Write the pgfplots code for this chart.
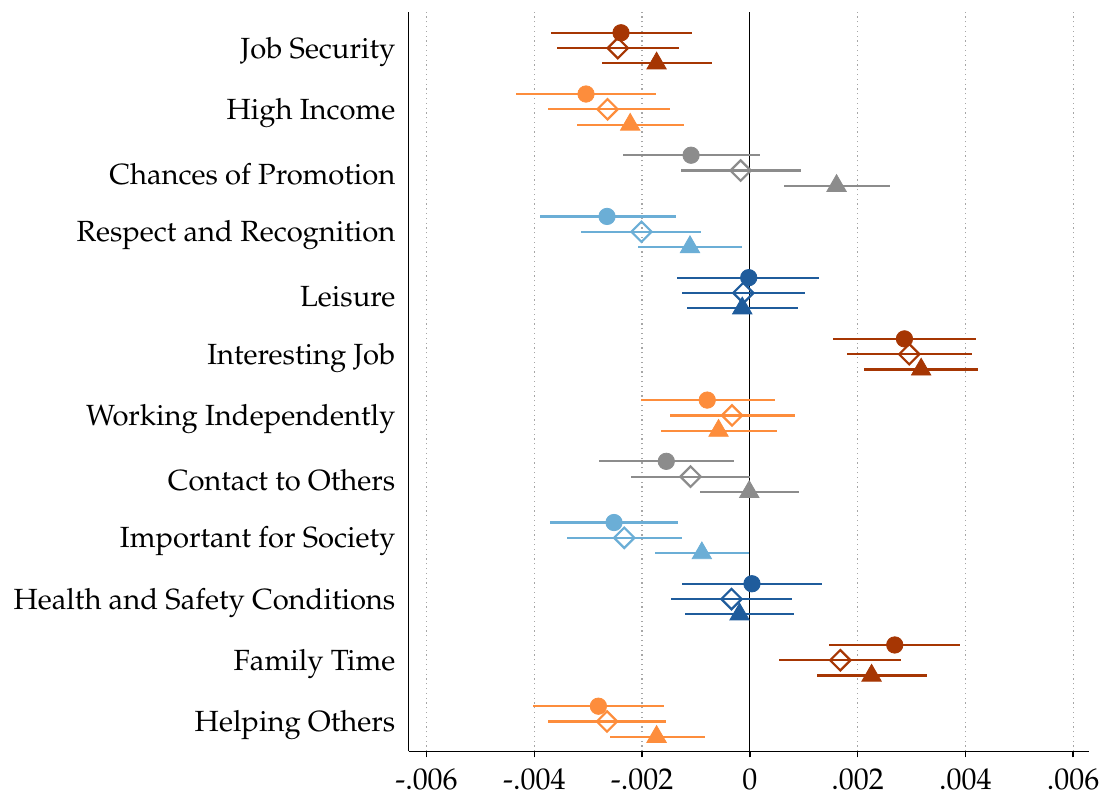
\documentclass[border=0pt]{standalone}
\usepackage[T1]{fontenc}
\usepackage{mathpazo}
\usepackage{pgfplots}
\pgfplotsset{compat=1.18}
\definecolor{cA}{RGB}{166,54,3}
\definecolor{cB}{RGB}{253,141,60}
\definecolor{cC}{RGB}{140,140,140}
\definecolor{cD}{RGB}{107,174,214}
\definecolor{cE}{RGB}{31,92,156}
\pgfplotsset{
  ci/.style={only marks,
    error bars/x dir=both, error bars/x explicit, error bars/error mark=none,
    error bars/error bar style={line width=1.1pt, solid}},
  circ/.style={mark=*, mark size=4.1pt},
  diam/.style={mark=square, mark size=3.6pt, mark options={rotate=45, fill=white, line width=1.1pt}},
  tri/.style={mark=triangle*, mark size=5.6pt},
}
\newcommand{\ci}[2]{\addplot[ci,#1] table[row sep=\\, x=x,y=y,
  x error minus expr=\thisrow{x}-\thisrow{lo},
  x error plus expr=\thisrow{hi}-\thisrow{x}] {#2};}
\begin{document}
\begin{tikzpicture}
\begin{axis}[
  scale only axis, width=340.5pt, height=370pt,
  xmin=-6.33, xmax=6.3, ymin=0.51, ymax=12.59,
  axis x line*=bottom, axis y line*=left,
  axis line style={line width=0.7pt},
  xtick={-6,-4,-2,0,2,4,6},
  xticklabels={-.006,-.004,-.002,0,.002,.004,.006},
  x tick label style={font=\fontsize{15}{18}\selectfont, yshift=-2pt},
  xtick style={black, line width=0.7pt},
  major tick length=3pt,
  tick align=outside,
  xmajorgrids,
  major grid style={gray!70, line width=0.6pt, dash pattern=on 0.6pt off 1.8pt},
  ytick={1,2,3,4,5,6,7,8,9,10,11,12},
  yticklabels={Helping Others, Family Time, Health and Safety Conditions, Important for Society, Contact to Others, Working Independently, Interesting Job, Leisure, Respect and Recognition, Chances of Promotion, High Income, Job Security},
  y tick label style={font=\fontsize{14.6}{18}\selectfont, inner sep=0pt, xshift=-3.5pt, yshift=-1.8pt},
  ytick style={draw=none},
  clip=false,
]
\addplot[black, line width=0.6pt, forget plot] coordinates {(0,0.51) (0,12.59)};
% dark orange
\ci{cA,circ}{x lo hi y\\ -2.39 -3.69 -1.07 12.25\\ 2.87 1.55 4.19 7.25\\ 2.69 1.47 3.90 2.25\\}
\ci{cA,diam}{x lo hi y\\ -2.45 -3.57 -1.31 12\\ 2.96 1.81 4.13 7\\ 1.68 0.55 2.80 2\\}
\ci{cA,tri}{x lo hi y\\ -1.73 -2.75 -0.71 11.75\\ 3.18 2.11 4.23 6.75\\ 2.26 1.25 3.29 1.75\\}
% orange
\ci{cB,circ}{x lo hi y\\ -3.04 -4.34 -1.74 11.25\\ -0.79 -2.02 0.46 6.25\\ -2.81 -4.03 -1.59 1.25\\}
\ci{cB,diam}{x lo hi y\\ -2.64 -3.75 -1.49 11\\ -0.33 -1.48 0.83 6\\ -2.65 -3.74 -1.55 1\\}
\ci{cB,tri}{x lo hi y\\ -2.22 -3.21 -1.23 10.75\\ -0.58 -1.65 0.51 5.75\\ -1.73 -2.59 -0.84 0.75\\}
% gray
\ci{cC,circ}{x lo hi y\\ -1.09 -2.35 0.18 10.25\\ -1.55 -2.80 -0.30 5.25\\}
\ci{cC,diam}{x lo hi y\\ -0.17 -1.28 0.95 10\\ -1.10 -2.20 0.00 5\\}
\ci{cC,tri}{x lo hi y\\ 1.61 0.63 2.60 9.75\\ -0.01 -0.93 0.91 4.75\\}
% light blue
\ci{cD,circ}{x lo hi y\\ -2.65 -3.89 -1.37 9.25\\ -2.52 -3.70 -1.34 4.25\\}
\ci{cD,diam}{x lo hi y\\ -2.01 -3.14 -0.90 9\\ -2.33 -3.40 -1.25 4\\}
\ci{cD,tri}{x lo hi y\\ -1.11 -2.08 -0.14 8.75\\ -0.89 -1.76 -0.02 3.75\\}
% dark blue
\ci{cE,circ}{x lo hi y\\ -0.02 -1.35 1.29 8.25\\ 0.04 -1.25 1.34 3.25\\}
\ci{cE,diam}{x lo hi y\\ -0.12 -1.25 1.02 8\\ -0.34 -1.46 0.79 3\\}
\ci{cE,tri}{x lo hi y\\ -0.14 -1.16 0.89 7.75\\ -0.19 -1.21 0.82 2.75\\}
\end{axis}
\path ([xshift=-204.5pt,yshift=-22pt]current axis.south west) rectangle ([xshift=8pt,yshift=6pt]current axis.north east);
\end{tikzpicture}
\end{document}
